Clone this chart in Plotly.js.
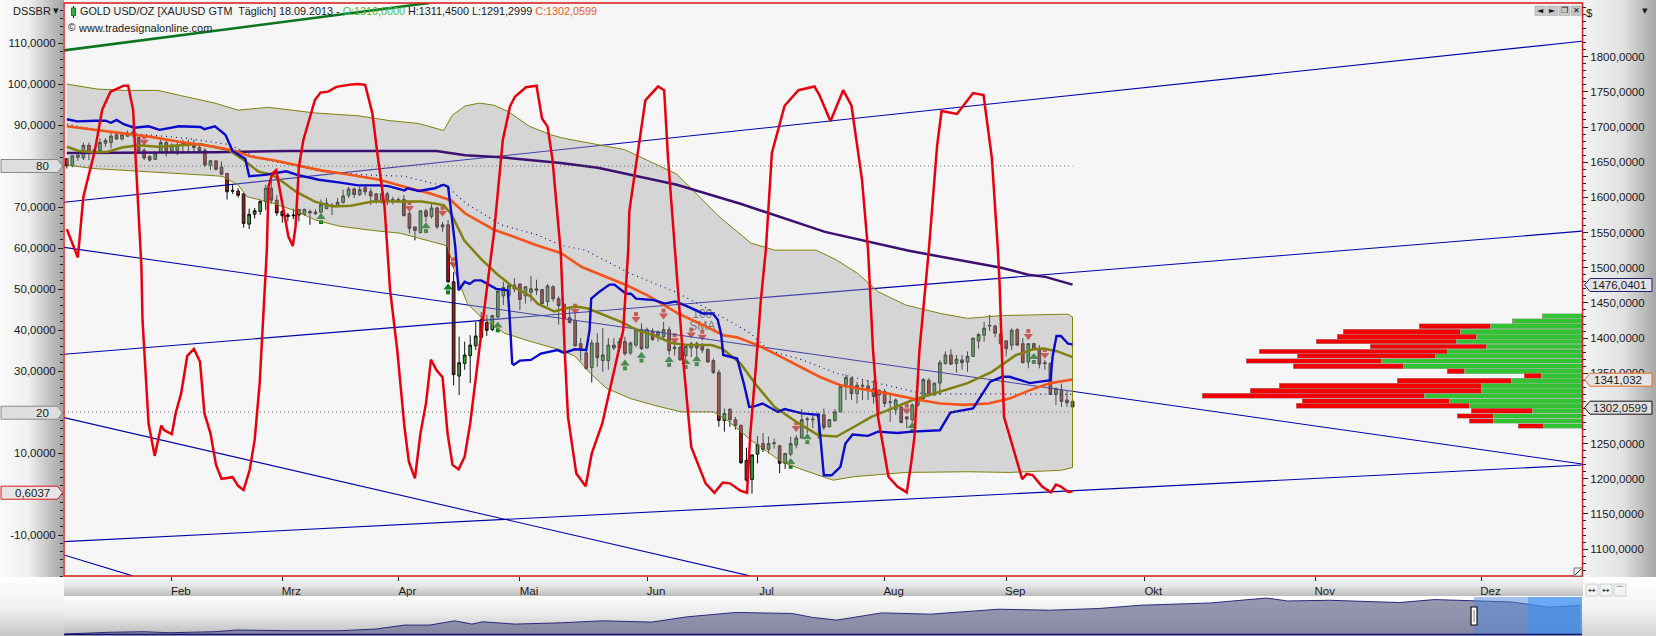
<!DOCTYPE html>
<html><head><meta charset="utf-8">
<script src="https://cdn.plot.ly/plotly-3.0.1.min.js"></script>
<style>
html,body{margin:0;padding:0;background:#fff;overflow:hidden}
#wrap{position:relative;width:1656px;height:636px;overflow:hidden}
.bg{position:absolute}
#chart{position:absolute;left:0;top:0;width:1656px;height:636px}
</style></head><body>
<div id="wrap">
<div class="bg" style="left:0;top:0;width:1656px;height:3px;background:#f4f4f4"></div>
<div class="bg" style="left:0;top:0;width:64px;height:577px;background:linear-gradient(to right,#fbfbfb 0,#efefef 45%,#a2a2a2 100%)"></div>
<div class="bg" style="left:1582px;top:0;width:74px;height:577px;background:linear-gradient(to right,#f3f3f3 0,#e2e2e2 55%,#a6a6a6 100%)"></div>
<div class="bg" style="left:63px;top:3px;width:1520px;height:574px;background:#f6f6f7"></div>
<div class="bg" style="left:64px;top:577px;width:1519px;height:19px;background:linear-gradient(to bottom,#f6f6f6 0,#e4e4e4 50%,#bdbdbd 100%)"></div>
<div class="bg" style="left:64px;top:596px;width:1519px;height:40px;background:linear-gradient(to bottom,#ffffff 0,#e8e8e8 50%,#b9b9b9 100%)"></div>
<div class="bg" style="left:0;top:577px;width:64px;height:59px;background:linear-gradient(to bottom,#ffffff 0,#f2f2f2 50%,#c6c6c6 100%)"></div>
<div class="bg" style="left:1583px;top:577px;width:73px;height:59px;background:linear-gradient(to bottom,#ffffff 0,#f4f4f4 50%,#d4d4d4 100%)"></div>
<div id="chart"></div>
</div>
<script>
// ---- daily candles, bar number 0 = first visible session ----
var open_=[1655,1645,1657,1656,1674,1664,1666,1677,1678,1689,1683,1687,1693,1685,1667,1658,1654,1664,1678,1665,1666,1675,1677,1674,1671,1667,1646,1652,1643,1634,1610,1609,1605,1562,1576,1580,1594,1613,1596,1580,1575,1575,1575,1576,1580,1579,1579,1584,1589,1588,1593,1603,1612,1604,1614,1608,1605,1596,1605,1595,1597,1597,1577,1558,1550,1581,1573,1585,1558,1561,1480,1346,1364,1375,1389,1426,1422,1412,1430,1460,1461,1475,1477,1460,1465,1470,1469,1452,1473,1456,1448,1429,1425,1392,1379,1358,1393,1368,1368,1390,1386,1395,1379,1390,1412,1386,1410,1404,1402,1412,1385,1387,1375,1386,1392,1391,1384,1368,1351,1283,1299,1284,1276,1226,1199,1235,1250,1242,1250,1247,1222,1235,1248,1258,1284,1285,1288,1291,1274,1283,1295,1333,1343,1321,1333,1332,1328,1319,1324,1309,1298,1302,1288,1284,1305,1314,1340,1319,1336,1364,1376,1364,1369,1366,1374,1396,1404,1417,1417,1392,1396,1390,1412,1392,1366,1392,1385,1365,1364,1320,1326,1312,1310];
var high_=[1655,1659,1665,1678,1678,1670,1684,1684,1693,1693,1691,1695,1697,1686,1670,1660,1665,1684,1682,1677,1679,1682,1682,1682,1677,1670,1653,1653,1651,1635,1618,1613,1606,1584,1585,1596,1618,1629,1603,1582,1578,1584,1583,1584,1583,1583,1597,1599,1592,1599,1611,1615,1614,1615,1618,1613,1606,1613,1608,1601,1600,1603,1580,1558,1581,1584,1592,1587,1565,1568,1494,1402,1395,1404,1423,1437,1433,1433,1467,1480,1478,1485,1477,1473,1488,1483,1470,1477,1475,1459,1449,1442,1442,1400,1388,1398,1407,1414,1400,1400,1400,1402,1395,1415,1421,1415,1414,1411,1423,1416,1392,1389,1390,1395,1395,1393,1385,1371,1355,1300,1300,1288,1277,1244,1234,1261,1265,1260,1257,1248,1236,1260,1262,1299,1288,1291,1294,1300,1285,1299,1333,1348,1345,1338,1340,1340,1340,1327,1328,1321,1314,1303,1288,1307,1317,1343,1343,1336,1369,1381,1384,1376,1376,1381,1400,1407,1423,1433,1419,1409,1397,1414,1414,1400,1393,1393,1390,1369,1365,1330,1335,1326,1311.45];
var low_=[1641,1643,1652,1653,1653,1658,1665,1672,1670,1682,1681,1686,1685,1663,1653,1651,1653,1663,1658,1663,1660,1665,1665,1663,1663,1643,1639,1638,1632,1597,1605,1600,1557,1555,1570,1575,1582,1591,1574,1564,1566,1569,1566,1574,1561,1575,1577,1583,1575,1587,1591,1599,1599,1602,1603,1589,1591,1591,1589,1590,1592,1573,1549,1539,1549,1565,1570,1555,1551,1479,1333,1319,1355,1336,1383,1401,1403,1410,1428,1447,1459,1465,1440,1449,1452,1461,1448,1445,1452,1419,1426,1421,1388,1368,1355,1337,1359,1352,1355,1383,1381,1375,1376,1387,1383,1385,1396,1395,1400,1376,1375,1368,1371,1373,1374,1379,1365,1349,1274,1267,1274,1270,1221,1196,1179,1222,1238,1236,1243,1208,1214,1232,1243,1257,1265,1272,1257,1269,1273,1281,1295,1312,1312,1307,1312,1312,1307,1293,1302,1281,1291,1279,1272,1272,1302,1312,1317,1319,1319,1362,1362,1351,1355,1352,1373,1385,1395,1410,1401,1390,1374,1383,1389,1364,1357,1383,1357,1355,1320,1305,1302,1302,1291.2999];
var close_=[1645,1659,1660,1674,1663,1668,1678,1681,1687,1683,1689,1691,1689,1666,1656,1653,1663,1678,1664,1674,1674,1677,1675,1671,1666,1646,1652,1640,1633,1608,1609,1603,1563,1576,1581,1594,1613,1596,1578,1574,1573,1574,1583,1583,1578,1577,1590,1592,1588,1593,1602,1612,1604,1611,1608,1602,1595,1605,1594,1597,1595,1574,1556,1553,1581,1573,1585,1558,1561,1480,1348,1365,1376,1390,1403,1401,1411,1432,1467,1472,1475,1470,1455,1473,1470,1468,1449,1474,1456,1446,1427,1422,1389,1383,1357,1393,1372,1376,1390,1386,1395,1378,1393,1412,1385,1412,1398,1409,1412,1382,1387,1369,1388,1392,1386,1383,1366,1351,1283,1293,1284,1276,1223,1198,1234,1249,1242,1250,1251,1222,1236,1250,1258,1284,1285,1284,1292,1273,1284,1295,1331,1344,1321,1333,1332,1326,1317,1326,1307,1309,1312,1280,1285,1305,1314,1341,1319,1336,1365,1376,1363,1370,1365,1374,1400,1405,1414,1418,1407,1406,1385,1411,1390,1365,1392,1384,1363,1364,1320,1328,1310,1308,1302.0599];

// ---- indicator lines: [bar, value] ----
var redBar=[0,2,3,5.1,6.4,7.9,10.3,11.1,12,12.6,13.5,13.7,14.2,14.8,15.9,17.1,17.6,19,19.7,20.7,21.8,23,24.1,24.9,26,27,28,30,31,32,33.1,34,34.9,35.5,36.2,36.5,37.2,37.9,38.8,40.1,40.9,41.4,42,42.8,44.9,45.9,47.2,48.8,51.1,52.7,54,55.3,56.2,57.5,58.5,59.8,61.1,61.9,63,64,65,65.9,66.9,68,68.9,69.8,70.9,72,73,74,75,75.3,77.3,78.9,80.2,81.1,83.1,85,86,87,87.9,89.4,90.1,90.7,92.2,93.9,95,96.9,98.8,100.7,101.3,101.6,101.8,104.7,107,108.1,108.8,110.1,110.9,111.6,113,115.6,117.2,118.7,120,121.9,123.1,123.7,124.7,125.6,126.5,127.6,129.9,132.4,135.3,136.2,138.2,140.5,142,143.9,145,145.9,146.8,148.7,150.3,152,152.8,153.4,154.3,155.6,156,157.5,158.3,161.1,164,165.9,167.4,168.5,168.8,169.6,170.8,172.1,172.9,173.7,174.8,176.5,178.1,179,179.9,181.2,182];
var redVal=[64.6,57.7,72.5,83.9,93.7,98.1,99.6,99.6,93.7,79,55.5,42.4,31.9,17.2,9.3,16.7,15.6,14.6,19.7,24.6,33.7,35.4,32.3,19.7,14.8,7.1,3.7,4.1,2,1,5.9,13.2,27,40.8,59.5,75,78.2,79,72.5,62.8,60.5,65.2,79.8,86.3,96.1,97.9,98.1,99.3,99.8,100,99.8,92.8,83.1,70.1,49.8,35.1,16.4,7.9,3.8,14.8,22.1,32.8,30.2,28.5,14.8,7.1,6,9.1,17.2,28.6,40,42.4,63.6,86.3,94.5,96.9,99.2,99.6,91.6,89.6,81.5,58.7,35.1,18.8,5,1.9,9.9,17.2,28.6,40,53,59.5,69,96,99.4,98.5,82,59.5,44,31.9,11.5,2.6,0.3,2.8,2.6,0.8,0.3,14.8,31,47.3,59.5,83.2,94.7,98.5,99.4,97.3,90.9,98.5,94.7,76.7,59.5,35.1,18.8,4.2,1.8,0.4,7.5,14,35.1,53,59.5,85,93.4,92.7,97.8,97.3,82,59.5,51.4,18.8,13.2,6.7,3.6,4.9,4.6,1.8,0.4,2.3,1.8,0.5,0.6037];

var blueBar=[0,1.9,5.1,7,8,9,10.3,12.2,14.8,16.8,20.3,24.2,24.9,26.8,28.7,30,32.3,33,35.9,37.8,39.1,39.7,41.7,44.3,45.6,49.5,52.7,56.6,58.2,61.1,61.7,63.7,65.6,66.6,68.2,69,69.6,70.3,70.9,72,72.9,73.8,75,76.5,77.7,79.8,80.1,80.6,80.9,82,84,85.8,88.8,90,91.9,94,94.6,94.9,96.4,98.2,99.1,101.2,102.1,103,106.3,108.2,110.1,112.3,115.1,116.9,117.8,118.4,118.8,121.3,122.5,123.5,124.4,125.9,128.7,129.9,133.1,136,136.6,137,138.4,140,140.9,142.2,145,146.8,150.3,153,158,159.9,164,167.1,169.3,170.6,174.3,178,178.4,179.1,179.9,181.2,182];
var blueVal=[1711,1708,1709,1709,1706,1710,1704,1699,1701,1696,1701,1700,1697,1701,1689,1666,1655,1630,1632,1635,1636,1637,1632,1628,1625,1621,1617,1617,1616,1610,1613,1609,1612,1613,1618,1615,1577,1530,1468,1480,1477,1482,1482,1475,1470,1468,1435,1364,1362,1368,1369,1378,1383,1379,1384,1383,1411,1456,1466,1476,1476,1463,1463,1456,1454,1449,1452,1445,1435,1435,1426,1406,1376,1371,1336,1302,1303,1307,1295,1299,1293,1291,1241,1205,1205,1217,1250,1263,1261,1267,1265,1267,1269,1294,1300,1338,1345,1345,1336,1340,1374,1403,1403,1392,1391];

var olivBar=[0,2.2,5.1,7.4,10,12.9,16.5,20.3,24.2,27.5,29.4,32,34.6,37.2,39.1,41.7,44.9,48.1,51.4,55.3,59.1,64.3,68.2,69.5,70.1,71.9,74.9,78,80.4,82.8,84,85.2,88.2,90.2,92.2,94.3,97.3,100.3,103.3,106.3,109.4,112.4,116.6,118.6,121.9,125,128.1,132,136,139.3,142.5,145.6,148.7,153.1,158.1,163,167.4,171.8,174.9,176.8,179.3,182];
var olivVal=[1672,1666,1664,1665,1671,1674,1672,1674,1676,1670,1667,1653,1637,1632,1622,1607,1594,1587,1588,1594,1594,1594,1589,1577,1568,1539,1513,1490,1475,1464,1459,1449,1438,1442,1445,1442,1433,1423,1411,1404,1393,1390,1390,1385,1364,1331,1302,1281,1262,1260,1274,1288,1298,1312,1324,1336,1352,1376,1384,1385,1381,1373];

var orngBar=[0,5.1,10,15.2,20.3,26.8,30,33.3,37.2,41.7,46.2,50.7,56.6,61.1,65.6,69.5,72.1,77.3,79.9,85,89.4,93.2,98.2,101.3,105,110.6,115,118.8,121.3,125,128.1,132,136.2,140,144.3,148.7,154.3,158.1,162.4,166.8,170.6,174.3,178,182];
var orngVal=[1701,1696,1691,1686,1679,1672,1667,1658,1653,1646,1638,1633,1625,1615,1606,1596,1577,1554,1547,1532,1521,1501,1485,1475,1461,1435,1419,1404,1401,1390,1378,1362,1345,1333,1327,1321,1312,1307,1305,1307,1314,1326,1336,1341.032];

var bbUpBar=[0,5.5,10.6,16.5,21.6,26.8,31,36.5,44.9,52.7,58.5,63.7,68.2,69.8,72.1,74.7,77.3,79.9,83.7,87.6,89.4,91.3,100.9,110.4,118,123.8,128.1,135.6,139.3,143.1,146.8,151.8,158.1,163,169.3,176.8,181.2,182];
var bbUpVal=[1761,1754,1752,1752,1743,1734,1724,1728,1720,1716,1709,1705,1695,1717,1730,1734,1731,1722,1701,1689,1685,1682,1668,1633,1573,1535,1525,1525,1511,1492,1466,1447,1435,1428,1432,1433,1434,1430];
var bbLoBar=[0,4.8,10,24.2,28.1,31,32.6,37.2,41.7,44.9,49.4,55.3,60.4,63.7,68.9,70.1,72.5,74.9,79.2,84,89.4,92,95,97.6,102,107,111.3,117,119.4,123.8,129.4,133.1,138.7,142.5,151.8,163,170.6,179.9,182];
var bbLoVal=[1646,1641,1638,1632,1630,1618,1601,1592,1580,1568,1559,1553,1549,1542,1531,1497,1449,1430,1407,1395,1383,1374,1348,1329,1314,1303,1295,1295,1284,1255,1224,1213,1198,1203,1209,1210,1209,1212,1216];

var purpBar=[0,26.8,39.7,66.9,72.1,78.6,89.4,96.1,110.4,121.9,137.2,152.4,169.1,174,177.1,182];
var purpVal=[1663,1664,1666,1666,1660,1657,1649,1642,1618,1591,1551,1524,1500,1490,1487,1476.0401];

var dotBar=[0,4,7.4,13.9,21.6,29.4,34.6,46.2,54,61.1,68.9,72.1,78.6,85,89.4,93.8,101.9,110.6,117.5,123.7,126.9,133.1,139.3,145.6,151.8,154.9,182];
var dotVal=[1704,1698,1694,1689,1684,1675,1656,1637,1632,1630,1615,1592,1561,1547,1532,1525,1492,1464,1435,1407,1383,1369,1350,1338,1326,1321,1320];

// ---- straight trend lines ----
var trendBars=[-0.507,274.2];
var chanA=[1593,1822], chanB=[1529,1221], chanC=[1377,1552], chanD=[1110.6,1219.6];
var chanEBars=[-0.507,123.6], chanE=[1287,1062];
var chanFBars=[-0.507,11.9], chanF=[1091.6,1062];
var greenBars=[-0.507,65.6], greenTrend=[1809,1876.3];

// ---- signal arrows ----
var upArrowBar=[46,65,69,78,101,104,109,112,114,131,134,153,175];
var upArrowVal=[1569,1556,1469,1415,1361,1372,1366,1363,1367,1221,1256,1272,1370];
var dnArrowBar=[14,62,68,70,92,103,108,110,113,115,132,152,174,177];
var dnArrowVal=[1682,1588,1581,1508,1442,1430,1435,1400,1408,1405,1275,1300,1406,1379];

// ---- volume profile ----
var profPrice=[1431,1424,1417,1409,1402,1395,1388,1381,1375,1367.5,1360,1353,1346.6,1339.5,1332.4,1325.3,1318.2,1310.6,1304,1296.9,1289.3,1282.2,1275];
var profGreen=[40,70,92,122,106,126,96,135,147,201,179,118,41,71,101,101,158,133,113,50,89,89,39];
var profRed=[0,0,71,117,139,140,116,188,138,135,110,17,17,114,202,231,222,147,173,61,36,24,25];

// ---- navigator history ----
var navBar=[1,44,80,105,151,173,223,276,312,341,366,391,408,419,451,497,539,588,623,672,728,749,773,818,867,935,986,1035,1077,1147,1203,1224,1266,1336,1371,1413,1448,1486,1517];
var navVal=[389,419,430,411,430,463,449,449,483,575,575,693,600,664,600,635,693,655,824,999,956,803,714,981,928,1152,1104,1188,1371,1515,1883,1654,1704,1542,1757,1654,1582,1257,1371];

// ---- tick labels ----
var monthBars=[19,39,60,82,105,125,148,170,195,226,256];
var monthNames=['Feb','Mrz','Apr','Mai','Jun','Jul','Aug','Sep','Okt','Nov','Dez'];
var oscTicks=[110,100,90,70,60,50,40,30,10,-10];
var oscLabels=['110,0000','100,0000','90,0000','70,0000','60,0000','50,0000','40,0000','30,0000','10,0000','-10,0000'];
var priceTicks=[1800,1750,1700,1650,1600,1550,1500,1450,1400,1350,1250,1200,1150,1100];
var priceLabels=['1800,0000','1750,0000','1700,0000','1650,0000','1600,0000','1550,0000','1500,0000','1450,0000','1400,0000','1350,0000','1250,0000','1200,0000','1150,0000','1100,0000'];

var FONT='"Liberation Sans",Arial,sans-serif';
var W=1656,H=636,mL=63.5,mR=74,mT=3,mB=2;
var px=function(x){return (x-mL)/(W-mL-mR)};
var py=function(y){return 1-(y-mT)/(H-mT-mB)};

var barIdx=open_.map(function(_,i){return i});
function line(x,y,color,width,dash,axis,name){
  return {type:'scatter',mode:'lines',x:x,y:y,xaxis:'x',yaxis:axis||'y',name:name||'',hoverinfo:'skip',
    line:{color:color,width:width,dash:dash||'solid',shape:'linear'}};
}
function shift(a,d){return a.map(function(v){return v+d})}
var navy='#0000a8';
var traces=[];
traces.push({type:'candlestick',x:barIdx,open:open_,high:high_,low:low_,close:close_,xaxis:'x',yaxis:'y',
  whiskerwidth:0,hoverinfo:'skip',
  increasing:{line:{color:'#101010',width:1},fillcolor:'#3aa33a'},
  decreasing:{line:{color:'#101010',width:1},fillcolor:'#b01414'}});
// arrows: head plus stem
traces.push({type:'scatter',mode:'markers',x:upArrowBar,y:shift(upArrowVal,3),hoverinfo:'skip',
  marker:{symbol:'triangle-up',size:8,color:'#0c7a1e',line:{width:0}}});
traces.push({type:'scatter',mode:'markers',x:upArrowBar,y:shift(upArrowVal,-4),hoverinfo:'skip',
  marker:{symbol:'square',size:4,color:'#0c7a1e',line:{width:0}}});
traces.push({type:'scatter',mode:'markers',x:dnArrowBar,y:shift(dnArrowVal,-3),hoverinfo:'skip',
  marker:{symbol:'triangle-down',size:8,color:'#e02828',line:{width:0}}});
traces.push({type:'scatter',mode:'markers',x:dnArrowBar,y:shift(dnArrowVal,4),hoverinfo:'skip',
  marker:{symbol:'square',size:4,color:'#e02828',line:{width:0}}});
traces.push({type:'scatter',mode:'text',x:[115,115],y:[1433,1416],text:['100','SMA'],hoverinfo:'skip',
  textfont:{family:FONT,size:12,color:'#555'}});
traces.push(line(trendBars,chanA,navy,1.1));
traces.push(line(trendBars,chanB,navy,1.1));
traces.push(line(trendBars,chanC,navy,1.1));
traces.push(line(trendBars,chanD,navy,1.1));
traces.push(line(chanEBars,chanE,navy,1.1));
traces.push(line(chanFBars,chanF,navy,1.1));
// Bollinger band drawn over the candles, semi-transparent
traces.push({type:'scatter',mode:'lines',fill:'toself',hoverinfo:'skip',
  x:bbUpBar.concat(bbLoBar.slice().reverse()),
  y:bbUpVal.concat(bbLoVal.slice().reverse()),
  fillcolor:'rgba(165,165,165,0.40)',line:{color:'#808010',width:1}});
traces.push(line(dotBar,dotVal,'#101080',1.2,'1px,4px'));
traces.push(line(greenBars,greenTrend,'#0b7522',2.6));
traces.push(line(purpBar,purpVal,'#3c1070',2.5));
traces.push(line(olivBar,olivVal,'#808010',2.5));
traces.push(line(orngBar,orngVal,'#f4541a',2.6));
traces.push(line(blueBar,blueVal,'#0a0ac8',2.4));
traces.push({type:'bar',orientation:'h',x:profGreen,y:profPrice,width:6.8,xaxis:'x3',yaxis:'y',hoverinfo:'skip',
  marker:{color:'#33c233',line:{color:'#9ab89a',width:0.6}}});
traces.push({type:'bar',orientation:'h',x:profRed,y:profPrice,width:6.8,xaxis:'x3',yaxis:'y',hoverinfo:'skip',
  marker:{color:'#f20000',line:{color:'#b08a8a',width:0.6}}});
traces.push(line([-0.5,182],[80,80],'#666',1,'1px,3px','y2'));
traces.push(line([-0.5,182],[20,20],'#666',1,'1px,3px','y2'));
traces.push(line(redBar,redVal,'#e8000c',2.5,'solid','y2'));
traces.push({type:'scatter',mode:'lines',x:navBar,y:navVal,xaxis:'x4',yaxis:'y4',hoverinfo:'skip',fill:'tozeroy',
  fillcolor:'rgba(112,112,150,0.72)',line:{color:'#2a2a7a',width:1}});

// chrome: boxes, tags, buttons
var shapes=[];
function box(x0,y0,x1,y1,fill,lineColor,lw,layer){
  shapes.push({type:'rect',xref:'paper',yref:'paper',x0:px(x0),x1:px(x1),y0:py(y0),y1:py(y1),
    fillcolor:fill,line:{color:lineColor||'rgba(0,0,0,0)',width:lw===undefined?1:lw},layer:layer||'above'});
}
function poly(pts,fill,lineColor,lw){
  var d=pts.map(function(p,i){return (i?'L':'M')+px(p[0])+','+py(p[1])}).join(' ')+' Z';
  shapes.push({type:'path',xref:'paper',yref:'paper',path:d,fillcolor:fill,line:{color:lineColor,width:lw||1},layer:'above'});
}
box(63.5,3,1582.5,576,'rgba(0,0,0,0)','#d81818',1.4);
// navigator selection
box(1474,597,1582,634,'rgba(80,135,215,0.5)');
box(1528,597,1582,634,'rgba(60,150,250,0.55)');
shapes.push({type:'line',xref:'paper',yref:'paper',x0:px(63.5),x1:px(1582),y0:py(634.5),y1:py(634.5),line:{color:'#101070',width:1.4},layer:'above'});
box(1471,607,1477,625,'#ffffff','#111',1.2);
shapes.push({type:'line',xref:'paper',yref:'paper',x0:px(1474),x1:px(1474),y0:py(610),y1:py(622),line:{color:'#777',width:1},layer:'above'});
// left tags
function leftTag(y,border,fill){poly([[0.5,y-6.5],[57,y-6.5],[62,y],[57,y+6.5],[0.5,y+6.5]],fill,border,1);}
leftTag(166,'#8a8a8a','#dedede');leftTag(412.7,'#8a8a8a','#dedede');leftTag(492.7,'#d81818','#e6e6e6');
// right tags
function rightTag(y,border,fill){poly([[1584.5,y],[1590,y-6.5],[1652,y-6.5],[1652,y+6.5],[1590,y+6.5]],fill,border,1);}
rightTag(285,'#22226e','#e2e2e8');rightTag(379.7,'#ee6a22','#e4e4e4');rightTag(407.7,'#111','#e0e0e0');
// title candle icon
shapes.push({type:'line',xref:'paper',yref:'paper',x0:px(73),x1:px(73),y0:py(6),y1:py(18),line:{color:'#111',width:1},layer:'above'});
box(71,8,75,15.5,'#38b038','#2a6a2a',1);
// corner buttons
[1535,1547,1559,1571].forEach(function(x){box(x,6,x+10.5,15.5,'#c8c8c8','#aaa',0.6);});
// resize corner
box(1574,568,1582,576,'#f0f0f0','#555',0.8);
shapes.push({type:'line',xref:'paper',yref:'paper',x0:px(1575),x1:px(1581),y0:py(575),y1:py(569),line:{color:'#333',width:1},layer:'above'});
// bottom-right mini buttons
[1586,1600,1614].forEach(function(x){box(x,584,x+12,596,'#f4f4f4','#c4c4c4',0.8);});

var anns=[];
function txt(x,y,t,opt){
  opt=opt||{};
  anns.push({xref:'paper',yref:'paper',x:px(x),y:py(y),text:t,showarrow:false,xanchor:opt.anchor||'left',yanchor:'middle',
    font:{family:FONT,size:opt.size||11.5,color:opt.color||'#1a1a1a'},borderpad:0,borderwidth:0});
}
txt(12,11.5,'DSSBR',{size:11});
txt(52,10,'▾',{size:11,anchor:'left'});
txt(80,11.5,'GOLD USD/OZ [XAUUSD GTM  Täglich] 18.09.2013 - <span style="color:#46c046">O:1310,0000</span> H:1311,4500 L:1291,2999 <span style="color:#ee5a24">C:1302,0599</span>',{size:10.8});
txt(68,27,'©',{size:10});
txt(78,28.5,'www.tradesignalonline.com',{size:11});
txt(48,166,'80',{anchor:'right',size:11.5});
txt(48,412.7,'20',{anchor:'right',size:11.5});
txt(49,492.7,'0,6037',{anchor:'right',size:11.5});
txt(1646,285,'1476,0401',{anchor:'right',size:11.5});
txt(1642,379.7,'1341,032',{anchor:'right',size:11.5});
txt(1647,407.7,'1302,0599',{anchor:'right',size:11.5});
txt(1586,12.5,'$',{size:11.5});
txt(1642,10.5,'▾',{size:11});
['◄','►','❐','✕'].forEach(function(s,i){
  anns.push({xref:'paper',yref:'paper',x:px(1540.2+12*i),y:py(10.7),text:s,showarrow:false,xanchor:'center',yanchor:'middle',font:{family:'"DejaVu Sans"',size:8,color:'#111'}});
});
['↔','↔','⌒'].forEach(function(s,i){
  anns.push({xref:'paper',yref:'paper',x:px(1592+14*i),y:py(590),text:s,showarrow:false,xanchor:'center',yanchor:'middle',font:{family:'"DejaVu Sans"',size:9,color:'#333'}});
});

var layout={
  width:W,height:H,margin:{l:mL,r:mR,t:mT,b:mB,pad:0},
  paper_bgcolor:'rgba(0,0,0,0)',plot_bgcolor:'rgba(0,0,0,0)',
  showlegend:false,barmode:'stack',bargap:0,dragmode:false,
  font:{family:FONT,size:11.5,color:'#1a1a1a'},
  xaxis:{domain:[0,1],range:[-0.507,274.2],anchor:'y',type:'linear',tickmode:'array',tickvals:monthBars,ticktext:monthNames,
    ticks:'outside',ticklen:4,tickwidth:1,tickcolor:'#222',ticklabelshift:9,ticklabelstandoff:0,showgrid:false,zeroline:false,showline:false,rangeslider:{visible:false},
    tickfont:{family:FONT,size:11.5,color:'#1a1a1a'}},
  xaxis3:{overlaying:'x',range:[1518.5,0],anchor:'y',visible:false,showgrid:false,zeroline:false,fixedrange:true},
  xaxis4:{domain:[0,1],range:[0,1518.5],anchor:'y4',visible:false,showgrid:false,zeroline:false},
  yaxis:{domain:[58/631,1],range:[1061.8,1876.3],side:'right',anchor:'x',tickmode:'array',tickvals:priceTicks,ticktext:priceLabels,
    ticks:'outside',ticklen:5,tickwidth:1,tickcolor:'#222',showgrid:false,zeroline:false,showline:false,
    minor:{ticks:'outside',ticklen:3,tickcolor:'#222',tickmode:'linear',tick0:0,dtick:10,showgrid:false},
    tickfont:{family:FONT,size:11.5,color:'#1a1a1a'}},
  yaxis2:{domain:[58/631,1],range:[-20,119.76],side:'left',overlaying:'y',anchor:'x',tickmode:'array',tickvals:oscTicks,ticktext:oscLabels,
    ticks:'outside',ticklen:5,tickwidth:1,tickcolor:'#222',showgrid:false,zeroline:false,showline:false,
    minor:{ticks:'outside',ticklen:3,tickcolor:'#222',tickmode:'linear',tick0:0,dtick:2,showgrid:false},
    tickfont:{family:FONT,size:11.5,color:'#1a1a1a'}},
  yaxis4:{domain:[0,37/631],type:'log',range:[Math.log10(389),Math.log10(1968)],anchor:'x4',visible:false,showgrid:false,zeroline:false},
  shapes:shapes,annotations:anns
};
Plotly.newPlot('chart',traces,layout,{displayModeBar:false,staticPlot:true,responsive:false});
</script>
</body></html>
